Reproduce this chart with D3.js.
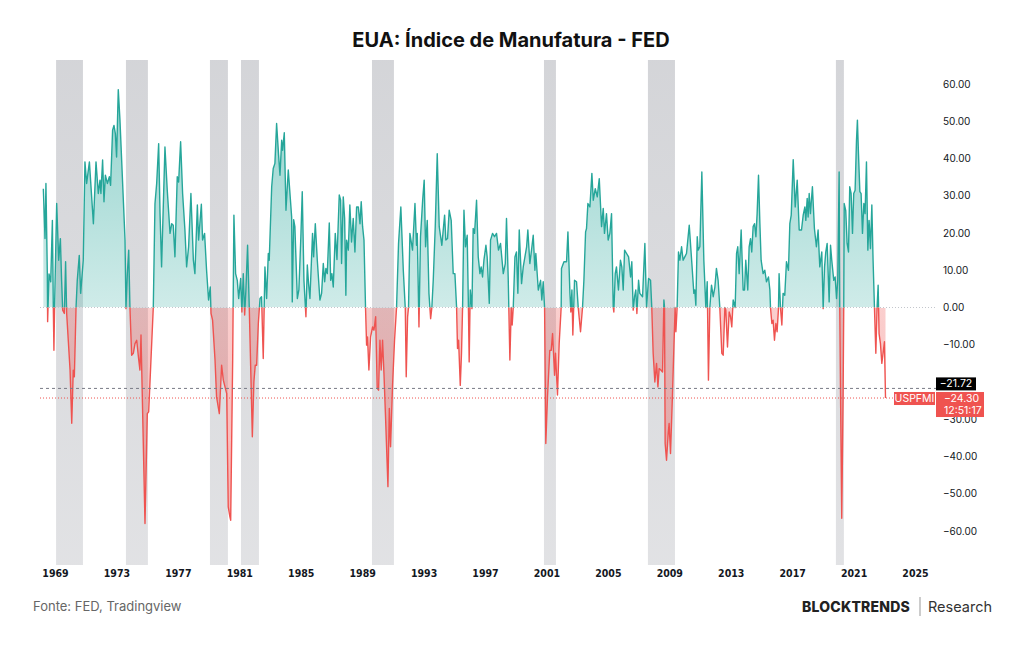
<!DOCTYPE html>
<meta charset="utf-8">
<style>
  body { margin: 0; background: #fff; }
  .axis text { fill: #131722; }
  .axis .domain { display: none; }
</style>
<body>
<script src="https://d3js.org/d3.v7.min.js"></script>
<script>

// Philly FED manufacturing index (decimal year, value)
var dates = [
  1968.24,1968.35,1968.41,1968.50,1968.52,1968.61,1968.72,1968.83,1968.89,1968.93,1968.98,
  1969.11,1969.24,1969.35,1969.43,1969.50,1969.61,1969.69,1969.76,1969.98,
  1970.09,1970.19,1970.26,1970.37,1970.45,1970.58,1970.67,1970.84,1970.95,
  1971.06,1971.24,1971.50,1971.67,1971.82,1971.93,1971.99,
  1972.10,1972.19,1972.28,1972.41,1972.54,1972.62,1972.75,1972.84,1972.93,
  1973.01,1973.12,1973.23,1973.56,1973.62,1973.71,1973.80,1973.88,1973.99,
  1974.10,1974.21,1974.32,1974.43,1974.53,1974.60,1974.86,
  1975.01,1975.10,1975.23,1975.40,1975.51,1975.62,1975.75,1975.84,1975.94,
  1976.16,1976.31,1976.49,1976.60,1976.70,1976.81,1976.96,
  1977.05,1977.18,1977.31,1977.46,1977.57,1977.70,1977.85,
  1978.01,1978.11,1978.27,1978.35,1978.53,1978.61,1978.74,1978.87,
  1979.00,1979.11,1979.16,1979.26,1979.42,1979.52,1979.70,1979.85,1979.96,
  1980.18,1980.28,1980.39,1980.44,1980.57,1980.65,1980.76,1980.87,1980.96,
  1981.09,1981.17,1981.26,1981.35,1981.43,1981.54,1981.65,1981.85,1981.95,
  1982.04,1982.13,1982.24,1982.35,1982.45,1982.56,1982.67,1982.78,1982.89,1982.95,
  1983.11,1983.21,1983.32,1983.43,1983.56,1983.65,1983.76,1983.82,1983.93,
  1984.04,1984.19,1984.30,1984.41,1984.45,1984.54,1984.62,1984.78,1984.88,
  1985.01,1985.10,1985.21,1985.34,1985.43,1985.51,1985.60,1985.77,1985.84,1985.95,
  1986.08,1986.25,1986.36,1986.47,1986.56,1986.64,1986.73,1986.86,1986.95,
  1987.03,1987.12,1987.25,1987.36,1987.51,1987.60,1987.66,1987.77,1987.86,1987.94,1987.99,
  1988.10,1988.20,1988.31,1988.42,1988.53,1988.64,1988.75,1988.86,1988.94,
  1989.03,1989.12,1989.22,1989.29,1989.35,1989.44,1989.55,1989.68,1989.77,1989.88,1989.98,
  1990.07,1990.16,1990.24,1990.33,1990.42,1990.53,1990.68,1990.77,1990.85,1990.98,
  1991.11,1991.24,1991.37,1991.52,1991.68,1991.81,1991.87,1991.96,1992.02,
  1992.11,1992.28,1992.44,1992.54,1992.59,1992.70,1992.80,1992.94,
  1993.04,1993.13,1993.24,1993.35,1993.46,1993.54,1993.63,1993.76,1993.89,
  1994.02,1994.19,1994.28,1994.37,1994.45,1994.56,1994.67,1994.80,1994.93,
  1995.04,1995.15,1995.21,1995.28,1995.39,1995.47,1995.54,1995.63,1995.73,1995.84,1995.91,1995.97,
  1996.04,1996.15,1996.23,1996.32,1996.45,1996.56,1996.67,1996.75,1996.84,1996.93,
  1997.06,1997.14,1997.28,1997.36,1997.49,1997.62,1997.75,1997.88,
  1998.01,1998.19,1998.32,1998.40,1998.51,1998.62,1998.71,1998.77,1998.84,1998.95,
  1999.05,1999.14,1999.23,1999.38,1999.49,1999.60,1999.71,1999.79,1999.92,
  2000.03,2000.14,2000.25,2000.31,2000.47,2000.62,2000.70,2000.79,2000.88,2000.96,
  2001.07,2001.22,2001.31,2001.40,2001.53,2001.59,2001.72,2001.83,2001.96,2001.98,
  2002.14,2002.31,2002.40,2002.53,2002.59,2002.66,2002.72,2002.83,2002.96,
  2003.07,2003.22,2003.35,2003.44,2003.55,2003.61,2003.70,2003.83,2003.96,
  2004.05,2004.18,2004.31,2004.44,2004.59,2004.70,2004.78,2004.91,
  2005.02,2005.13,2005.24,2005.35,2005.39,2005.48,2005.56,2005.69,2005.82,2005.91,
  2006.00,2006.09,2006.22,2006.35,2006.48,2006.56,2006.65,2006.74,2006.82,2006.89,
  2007.00,2007.08,2007.26,2007.41,2007.52,2007.65,2007.78,2007.86,2007.95,
  2008.06,2008.17,2008.26,2008.34,2008.45,2008.56,2008.65,2008.69,2008.73,2008.82,2008.93,2008.99,
  2009.08,2009.21,2009.30,2009.38,2009.43,2009.51,2009.60,2009.69,2009.80,2009.90,
  2010.01,2010.12,2010.30,2010.47,2010.60,2010.66,2010.73,2010.82,2010.88,2010.99,
  2011.12,2011.25,2011.38,2011.47,2011.55,2011.64,2011.75,2011.86,2011.97,
  2012.07,2012.18,2012.29,2012.42,2012.51,2012.62,2012.68,2012.79,2012.90,2012.99,
  2013.07,2013.16,2013.29,2013.38,2013.46,2013.55,2013.68,2013.81,2013.90,2013.98,
  2014.11,2014.20,2014.29,2014.37,2014.46,2014.55,2014.64,2014.72,2014.81,2014.90,2014.98,
  2015.11,2015.22,2015.33,2015.46,2015.55,2015.59,2015.68,2015.76,2015.85,2015.94,
  2016.02,2016.11,2016.15,2016.24,2016.33,2016.41,2016.52,2016.63,2016.76,2016.85,2016.94,
  2017.07,2017.20,2017.33,2017.46,2017.61,2017.72,2017.83,2017.89,2017.98,
  2018.04,2018.11,2018.19,2018.32,2018.45,2018.58,2018.69,2018.80,2018.93,
  2019.02,2019.11,2019.19,2019.28,2019.41,2019.50,2019.58,2019.71,2019.80,2019.89,2019.97,
  2020.06,2020.10,2020.15,2020.23,2020.32,2020.36,2020.39,2020.49,2020.58,2020.67,2020.75,2020.84,2020.93,
  2021.01,2021.10,2021.19,2021.25,2021.32,2021.41,2021.49,2021.58,2021.67,2021.75,2021.84,2021.93,
  2022.01,2022.10,2022.19,2022.27,2022.36,2022.45,2022.53,2022.60,2022.66,2022.75,2022.84,2022.92,
  2023.01,2023.08
];
var values = [
  31.9,18.5,33.3,9.1,-3.8,9.0,6.9,23.4,0,-11.5,2.0,
  27.9,12.7,18.5,7.3,-0.7,-1.6,12.3,-1.6,-16.8,
  -31.1,-16.8,-18.6,0,7.3,14.0,3.8,12.7,39.1,
  33.3,39.1,22.5,39.1,30.6,34.2,30.6,
  39.6,28.4,35.5,33.3,35.1,32.8,47.6,48.9,46.7,
  40.4,58.5,50.3,18.1,-0.3,9.1,15.4,0,-12.8,
  -12.3,-9.7,-8.8,-13.2,-16.8,-7.4,-58.0,
  -28.5,-28.0,-15.9,0,27.9,33.3,44.0,25.2,10.9,
  43.1,31.5,19.9,22.5,22.1,13.6,35.1,
  33.7,44.5,30.6,20.8,10.9,16.3,30.6,
  12.7,9.1,27.5,18.1,27.7,18.1,19.9,10.0,
  2.0,5.5,-1.6,-3.4,-14.1,-24.0,-28.5,-15.5,-19.5,
  -23.1,-53.5,-56.2,-57.1,-14.1,24.8,9.1,7.3,2.4,
  7.8,-1.2,9.1,-2.0,4.7,16.7,0,-34.7,-20.0,
  -15.5,-15.5,-4.3,2.4,2.9,-13.7,10.9,2.4,14.5,12.7,
  32.4,37.3,38.7,49.4,40.9,35.5,44.9,42.2,46.9,
  26.1,36.9,30.6,24.3,1.5,23.6,21.7,2.4,4.7,
  19.0,31.1,7.3,-2.5,11.4,6.4,2.4,19.9,13.6,22.5,
  12.7,2.0,3.8,11.8,6.9,10.5,9.1,22.7,7.3,
  9.1,5.5,19.9,12.9,30.2,28.8,11.8,29.7,23.9,3.3,18.1,
  15.4,27.5,17.6,23.9,14.9,27.0,27.0,22.5,28.4,
  21.7,18.1,0,-10.1,-7.9,-16.8,-7.9,-5.2,-6.1,-2.5,-21.7,
  -22.2,-8.8,-16.8,-8.8,-17.7,-30.2,-48.1,-27.1,-37.4,-20.9,
  -8.8,0,17.2,27.0,10.0,-0.3,-18.6,-2.5,0,
  19.9,15.4,27.9,16.7,19.9,-5.2,19.0,28.8,
  34.2,16.3,23.4,3.8,-3.0,0,7.3,21.7,41.3,
  21.7,16.7,20.8,24.8,18.1,18.5,26.1,23.4,9.1,
  9.1,0,-11.0,-8.8,-20.9,-12.3,0,26.1,16.3,19.4,2.9,-14.6,
  4.7,-0.3,21.2,19.9,28.8,13.6,9.1,10.9,8.2,12.7,
  16.7,13.6,1.1,18.1,19.9,19.0,19.9,15.4,
  17.2,9.1,11.8,23.9,8.2,-14.1,0,-4.7,0,13.6,
  14.9,3.8,20.8,6.4,10.9,13.6,16.3,20.8,11.8,
  15.4,19.4,10.0,14.5,4.7,7.3,2.0,6.9,0,-36.5,
  -24.0,-11.5,-11.5,-7.0,-18.2,-12.3,-23.5,-9.7,0,10.5,
  12.3,12.3,20.3,3.8,-1.2,4.7,-7.4,7.3,6.9,
  0,-6.5,0,7.3,20.3,21.2,27.9,27.0,36.0,
  28.8,31.9,29.7,34.6,21.7,26.6,19.9,25.2,
  18.1,19.9,25.2,0,-1.2,9.1,10.9,4.7,12.7,10.9,
  4.7,15.4,14.5,13.6,8.2,12.3,-0.7,2.9,4.7,-1.6,
  7.3,3.8,2.9,17.2,0,7.8,7.3,0,-12.3,
  -20.0,-15.0,-21.3,-16.4,-16.8,-17.3,2.0,0,-36.5,-41.0,-33.8,-31.1,
  -39.2,-23.1,-10.6,0,-6.5,0,14.9,12.7,16.3,12.7,
  13.6,14.5,22.1,11.8,3.8,4.7,0.6,19.0,15.4,16.3,
  36.4,12.7,0,6.9,-19.5,0,6.0,2.9,5.5,
  10.5,7.3,0,-12.3,-12.8,0,-0.7,-10.6,-1.2,-2.5,
  -5.2,2.0,0,14.5,16.3,9.1,20.8,4.7,4.7,12.7,
  4.7,16.3,18.5,14.9,21.7,22.5,19.0,25.2,35.5,22.5,12.7,
  9.1,10.0,6.9,8.2,4.7,0,-4.3,-3.4,-8.8,-4.3,
  -6.5,-0.3,9.1,0,-4.7,3.8,3.3,12.3,10.0,22.5,24.8,
  39.7,27.0,34.2,20.8,20.8,24.8,27.0,23.4,29.3,
  24.3,30.6,25.2,32.4,21.2,16.3,20.8,10.9,14.9,
  -0.3,10.9,14.9,17.2,1.5,16.7,12.7,7.3,8.2,2.4,7.3,
  36.4,0,-23.0,-56.6,-23.0,0,27.9,26.0,17.2,14.9,32.4,30.6,19.9,
  30.6,31.5,44.9,50.3,41.3,31.1,30.6,19.9,27.9,25.2,39.1,15.4,
  23.4,15.8,27.5,12.7,0,-12.3,0,6.0,-7.0,-9.7,-15.0,-12.3,
  -9.2,-24.3
];

// shaded recession periods
var recStart = [1969.07, 1973.62, 1979.09, 1981.11, 1989.64, 2000.84, 2007.61, 2019.85];
var recEnd   = [1970.82, 1975.05, 1980.26, 1982.28, 1991.07, 2001.62, 2009.37, 2020.37];

var xTickYears = [1969,1973,1977,1981,1985,1989,1993,1997,2001,2005,2009,2013,2017,2021,2025];
// -20 is hidden behind the last-value label in the original
var yTickValues = [-60,-50,-40,-30,-10,0,10,20,30,40,50,60];
var lastValue = -24.30;
var refValue = -21.72;
var seriesName = "USPFMI";
var lastTime = "12:51:17";

var W = 1024, H = 645;
var plotLeft = 40, plotRight = 936, plotTop = 60, plotBottom = 565;

var x = d3.scaleLinear().domain([1969, 2025]).range([55, 915]);
var y = d3.scaleLinear().domain([-60, 60]).range([531, 84]);

var data = dates.map(function(d, i) { return { t: d, v: values[i] }; });

var fmt = d3.format(".2f");
function sign(v) { return fmt(v).replace("-", "\u2212"); }

var svg = d3.select("body").append("svg")
    .attr("width", W)
    .attr("height", H)
    .style("font-family", "Inter, 'Noto Sans', sans-serif");

svg.append("rect").attr("width", W).attr("height", H).attr("fill", "#fff");

var defs = svg.append("defs");

var gUp = defs.append("linearGradient").attr("id", "gUp")
    .attr("gradientUnits", "userSpaceOnUse")
    .attr("x1", 0).attr("x2", 0).attr("y1", y(60)).attr("y2", y(0));
gUp.append("stop").attr("offset", 0).attr("stop-color", "#26a69a").attr("stop-opacity", 0.5);
gUp.append("stop").attr("offset", 1).attr("stop-color", "#26a69a").attr("stop-opacity", 0.22);

var gDn = defs.append("linearGradient").attr("id", "gDn")
    .attr("gradientUnits", "userSpaceOnUse")
    .attr("x1", 0).attr("x2", 0).attr("y1", y(0)).attr("y2", y(-60));
gDn.append("stop").attr("offset", 0).attr("stop-color", "#ef5350").attr("stop-opacity", 0.28);
gDn.append("stop").attr("offset", 1).attr("stop-color", "#ef5350").attr("stop-opacity", 0.45);

var gRec = defs.append("linearGradient").attr("id", "gRec")
    .attr("x1", 0).attr("x2", 0).attr("y1", 0).attr("y2", 1);
gRec.append("stop").attr("offset", 0).attr("stop-color", "#787b86").attr("stop-opacity", 0.32);
gRec.append("stop").attr("offset", 1).attr("stop-color", "#787b86").attr("stop-opacity", 0.22);

var zeroY = y(0);
// fills stop a hair short of the zero line so the dotted line stays grey
defs.append("clipPath").attr("id", "clipUp").append("rect")
    .attr("x", plotLeft).attr("y", plotTop)
    .attr("width", plotRight - plotLeft).attr("height", Math.floor(zeroY) - plotTop);
defs.append("clipPath").attr("id", "clipDn").append("rect")
    .attr("x", plotLeft).attr("y", Math.ceil(zeroY))
    .attr("width", plotRight - plotLeft).attr("height", plotBottom - Math.ceil(zeroY));
defs.append("clipPath").attr("id", "clipUpLine").append("rect")
    .attr("x", plotLeft).attr("y", plotTop)
    .attr("width", plotRight - plotLeft).attr("height", zeroY - plotTop);
defs.append("clipPath").attr("id", "clipDnLine").append("rect")
    .attr("x", plotLeft).attr("y", zeroY)
    .attr("width", plotRight - plotLeft).attr("height", plotBottom - zeroY);

// title
svg.append("text")
    .attr("x", 511).attr("y", 47)
    .attr("text-anchor", "middle")
    .attr("font-size", 20).attr("font-weight", 700)
    .attr("fill", "#111")
    .text("EUA: \u00cdndice de Manufatura - FED");

// recession bands
svg.append("g").selectAll("rect")
    .data(recStart)
  .enter().append("rect")
    .attr("x", function(d) { return x(d); })
    .attr("width", function(d, i) { return x(recEnd[i]) - x(d); })
    .attr("y", plotTop)
    .attr("height", plotBottom - plotTop)
    .attr("fill", "url(#gRec)");

// filled areas
var area = d3.area()
    .x(function(d) { return x(d.t); })
    .y0(zeroY)
    .y1(function(d) { return y(d.v); });

var line = d3.line()
    .x(function(d) { return x(d.t); })
    .y(function(d) { return y(d.v); });

svg.append("path").datum(data)
    .attr("d", area).attr("fill", "url(#gUp)").attr("clip-path", "url(#clipUp)");
svg.append("path").datum(data)
    .attr("d", area).attr("fill", "url(#gDn)").attr("clip-path", "url(#clipDn)");

// zero line
svg.append("line")
    .attr("x1", plotLeft).attr("x2", plotRight)
    .attr("y1", zeroY).attr("y2", zeroY)
    .attr("stroke", "#c3c6cc").attr("stroke-width", 1)
    .attr("stroke-dasharray", "1,2");

svg.append("path").datum(data)
    .attr("d", line).attr("fill", "none")
    .attr("stroke", "#26a69a").attr("stroke-width", 1.4)
    .attr("stroke-linejoin", "round")
    .attr("clip-path", "url(#clipUpLine)");
svg.append("path").datum(data)
    .attr("d", line).attr("fill", "none")
    .attr("stroke", "#ef5350").attr("stroke-width", 1.4)
    .attr("stroke-linejoin", "round")
    .attr("clip-path", "url(#clipDnLine)");

// reference lines
svg.append("line")
    .attr("x1", plotLeft).attr("x2", plotRight)
    .attr("y1", y(refValue)).attr("y2", y(refValue))
    .attr("stroke", "#787b86").attr("stroke-width", 1)
    .attr("stroke-dasharray", "3,3");
svg.append("line")
    .attr("x1", plotLeft).attr("x2", plotRight)
    .attr("y1", y(lastValue)).attr("y2", y(lastValue))
    .attr("stroke", "#ef5350").attr("stroke-width", 1)
    .attr("stroke-dasharray", "1,2");

// right axis
var yAxis = svg.append("g")
    .attr("class", "axis")
    .attr("transform", "translate(936,0)")
    .call(d3.axisRight(y).tickValues(yTickValues).tickSize(0).tickPadding(7).tickFormat(sign));
yAxis.selectAll("text").attr("font-size", 10).attr("font-family", "Inter, sans-serif");

// bottom axis
var xAxis = svg.append("g")
    .attr("class", "axis")
    .attr("transform", "translate(0," + 570 + ")")
    .call(d3.axisBottom(x).tickValues(xTickYears).tickSize(0).tickPadding(0).tickFormat(d3.format("d")));
xAxis.selectAll("text")
    .attr("font-size", 10.5).attr("font-weight", 700)
    .attr("font-family", "'DejaVu Sans Condensed', 'Liberation Sans Narrow', Roboto, sans-serif")
    .attr("dy", "0.71em");

// price labels
var lab = svg.append("g").style("font-family", "Inter, sans-serif").attr("font-size", 10.5);
lab.append("rect").attr("x", 936).attr("y", y(refValue) - 11).attr("width", 40).attr("height", 13).attr("fill", "#000");
lab.append("text").attr("x", 956).attr("y", y(refValue) - 1).attr("text-anchor", "middle")
    .attr("fill", "#fff").text(sign(refValue));
lab.append("rect").attr("x", 936).attr("y", y(lastValue) - 6).attr("width", 48).attr("height", 25).attr("fill", "#ef5350");
lab.append("text").attr("x", 944).attr("y", y(lastValue) + 4).attr("fill", "#fff").text(sign(lastValue));
lab.append("text").attr("x", 944).attr("y", y(lastValue) + 16).attr("fill", "#fff").text(lastTime);
lab.append("rect").attr("x", 894).attr("y", y(lastValue) - 6).attr("width", 41).attr("height", 13).attr("fill", "#ef5350");
lab.append("text").attr("x", 914.5).attr("y", y(lastValue) + 4).attr("text-anchor", "middle")
    .attr("fill", "#fff").text(seriesName);

// footer
svg.append("text")
    .attr("x", 33).attr("y", 611)
    .attr("font-size", 13).attr("fill", "#666")
    .text("Fonte: FED, Tradingview");
svg.append("text")
    .attr("x", 910).attr("y", 612)
    .attr("text-anchor", "end")
    .attr("font-size", 14).attr("font-weight", 800).attr("fill", "#222")
    .attr("letter-spacing", 0.2)
    .text("BLOCKTRENDS");
svg.append("line")
    .attr("x1", 920).attr("x2", 920).attr("y1", 597).attr("y2", 616)
    .attr("stroke", "#999").attr("stroke-width", 1);
svg.append("text")
    .attr("x", 928).attr("y", 612)
    .attr("font-size", 14.5).attr("fill", "#333")
    .text("Research");

</script>
</body>
